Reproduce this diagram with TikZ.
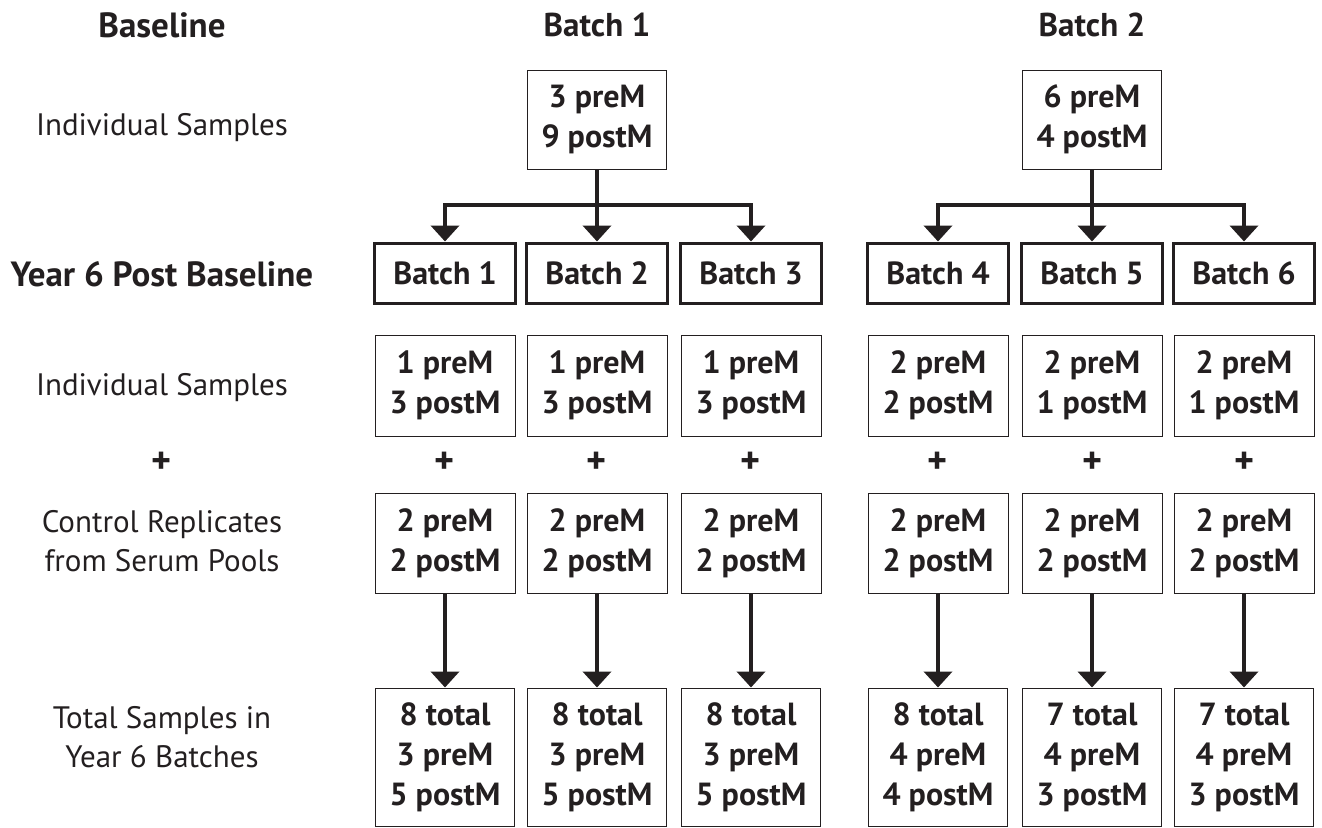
\documentclass[tikz,border=0pt]{standalone}
\usepackage{fontspec}
\setmainfont{PT Sans}
\usetikzlibrary{arrows.meta}
\definecolor{ink}{HTML}{231F20}

\tikzset{
  box/.style={draw=ink, line width=1pt, text=ink, font=\bfseries\fontsize{32}{40}\selectfont,
    align=center, minimum width=140pt, minimum height=100pt, inner sep=0pt},
  batchbox/.style={box, line width=3pt, minimum width=141pt, minimum height=60pt},
  lbl/.style={text=ink, font=\fontsize{31}{39}\selectfont, align=center},
  hdr/.style={text=ink, font=\bfseries\fontsize{35}{39}\selectfont, align=center},
  plus/.style={text=ink, font=\bfseries\fontsize{38}{39}\selectfont},
  arr/.style={draw=ink, line width=4pt, -{Triangle[width=28pt,length=16pt]}},
}

\begin{document}
\begin{tikzpicture}[x=1pt,y=-1pt]
\useasboundingbox (0,0) rectangle (1322,827);

% row labels
\node[hdr] (baseline) at (162,25) {Baseline};
\node[lbl] (indbase) at (162,128) {Individual Samples};
\node[hdr] (year6) at (162,274) {Year 6 Post Baseline};
\node[lbl] (indyear) at (162,388) {Individual Samples};
\node[plus] (plus0) at (162,463) {+};
\node[lbl] (ctrl0) at (162,541) {Control Replicates\\from Serum Pools};
\node[lbl] (tot0) at (162,737) {Total Samples in\\Year 6 Batches};

% baseline batches
\node[hdr, font=\bfseries\fontsize{33}{39}\selectfont] (head1) at (597,25) {Batch 1};
\node[hdr, font=\bfseries\fontsize{33}{39}\selectfont] (head2) at (1092,25) {Batch 2};
\node[box, minimum width=139pt, minimum height=99pt] (top1) at (597,119.5) {3 preM\\9 postM};
\node[box, minimum width=139pt, minimum height=99pt] (top2) at (1092,119.5) {6 preM\\4 postM};

% year 6 batches
\foreach \i/\x/\ia/\ib/\ta/\tb/\tc in {%
    1/445/1 preM/3 postM/8 total/3 preM/5 postM,
    2/597/1 preM/3 postM/8 total/3 preM/5 postM,
    3/751/1 preM/3 postM/8 total/3 preM/5 postM,
    4/938/2 preM/2 postM/8 total/4 preM/4 postM,
    5/1092/2 preM/1 postM/7 total/4 preM/3 postM,
    6/1244/2 preM/1 postM/7 total/4 preM/3 postM} {
  \node[batchbox] (bat\i) at (\x,273) {Batch \i};
  \node[box, minimum height=101pt] (ind\i) at (\x,385.5) {\ia\\\ib};
  \node[plus] (plus\i) at (\x,463) {+};
  \node[box] (ctrl\i) at (\x,543) {2 preM\\2 postM};
  \node[box, minimum width=139pt, minimum height=138pt] (tot\i) at (\x,757) {\ta\\\tb\\\tc};
  \draw[arr] (ctrl\i.south) -- (tot\i.north);
}

% splits
\foreach \j in {1,2,3} \draw[arr] (top1.south) -- ++(0,35) -| (bat\j.north);
\foreach \j in {4,5,6} \draw[arr] (top2.south) -- ++(0,35) -| (bat\j.north);
\end{tikzpicture}
\end{document}
